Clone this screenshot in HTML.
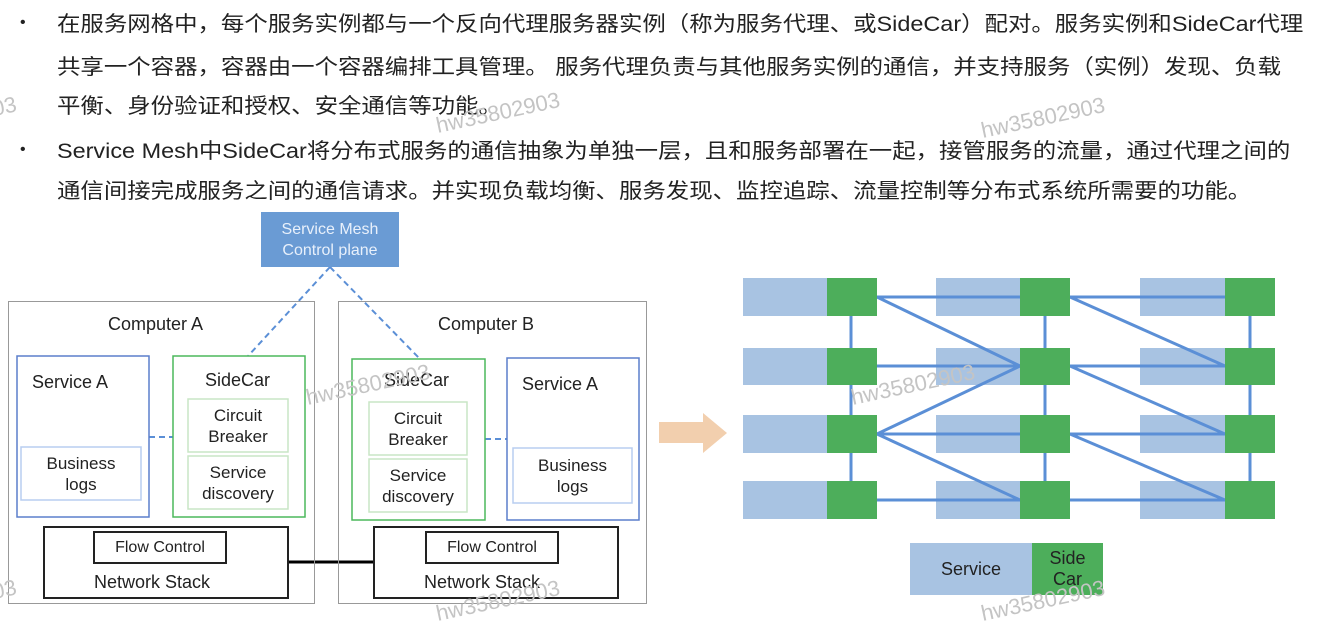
<!DOCTYPE html>
<html><head><meta charset="utf-8"><style>
body{margin:0;width:1328px;height:614px;background:#fff;position:relative;overflow:hidden;font-family:"Liberation Sans","Noto Sans CJK SC",sans-serif;}
.l{position:absolute;left:57px;font-size:21px;color:#222;white-space:nowrap;line-height:24px;transform:scaleX(1.115);transform-origin:0 0;}
.b{position:absolute;left:20px;font-size:16px;color:#222;}
.bx{position:absolute;box-sizing:border-box;display:flex;align-items:center;justify-content:center;text-align:center;font-size:17px;color:#222;line-height:21px;}
.t{position:absolute;font-size:18px;color:#222;white-space:nowrap;}
.wm{position:absolute;color:#c4c4c4;font-size:22px;transform:rotate(-12deg);white-space:nowrap;}
</style></head><body>
<div class="b" style="top:14px">•</div>
<div class="l" style="top:13px">在服务网格中，每个服务实例都与一个反向代理服务器实例（称为服务代理、或SideCar）配对。服务实例和SideCar代理</div>
<div class="l" style="top:56px">共享一个容器，容器由一个容器编排工具管理。 服务代理负责与其他服务实例的通信，并支持服务（实例）发现、负载</div>
<div class="l" style="top:95px">平衡、身份验证和授权、安全通信等功能。</div>
<div class="b" style="top:141px">•</div>
<div class="l" style="top:140px">Service Mesh中SideCar将分布式服务的通信抽象为单独一层，且和服务部署在一起，接管服务的流量，通过代理之间的</div>
<div class="l" style="top:180px">通信间接完成服务之间的通信请求。并实现负载均衡、服务发现、监控追踪、流量控制等分布式系统所需要的功能。</div>

<svg style="position:absolute;left:0;top:0" width="1328" height="614">
<g stroke="#5b8fd6" stroke-width="2" stroke-dasharray="6,4" fill="none">
<line x1="330" y1="267" x2="248" y2="356"/><line x1="330" y1="267" x2="420" y2="359"/>
<line x1="149" y1="437" x2="173" y2="437"/><line x1="485" y1="439" x2="507" y2="439"/>
</g>
<line x1="288" y1="562" x2="374" y2="562" stroke="#000" stroke-width="3"/>
<rect x="8.5" y="301.5" width="306" height="302" fill="none" stroke="#999"/>
<rect x="338.5" y="301.5" width="308" height="302" fill="none" stroke="#999"/>
<rect x="17" y="356" width="132" height="161" fill="none" stroke="#5b7fcc" stroke-width="1.5"/>
<rect x="21" y="447" width="120" height="53" fill="none" stroke="#b8cdf0" stroke-width="1.5"/>
<rect x="173" y="356" width="132" height="161" fill="none" stroke="#4cb85c" stroke-width="1.5"/>
<rect x="188" y="399" width="100" height="53" fill="none" stroke="#c9e6c5" stroke-width="1.5"/>
<rect x="188" y="456" width="100" height="53" fill="none" stroke="#c9e6c5" stroke-width="1.5"/>
<rect x="352" y="359" width="133" height="161" fill="none" stroke="#4cb85c" stroke-width="1.5"/>
<rect x="369" y="402" width="98" height="53" fill="none" stroke="#c9e6c5" stroke-width="1.5"/>
<rect x="369" y="459" width="98" height="53" fill="none" stroke="#c9e6c5" stroke-width="1.5"/>
<rect x="507" y="358" width="132" height="162" fill="none" stroke="#5b7fcc" stroke-width="1.5"/>
<rect x="513" y="448" width="119" height="55" fill="none" stroke="#b8cdf0" stroke-width="1.5"/>
<rect x="44" y="527" width="244" height="71" fill="none" stroke="#222" stroke-width="2"/>
<rect x="94" y="532" width="132" height="31" fill="none" stroke="#222" stroke-width="2"/>
<rect x="374" y="527" width="244" height="71" fill="none" stroke="#222" stroke-width="2"/>
<rect x="426" y="532" width="132" height="31" fill="none" stroke="#222" stroke-width="2"/>
<rect x="261" y="212" width="138" height="55" fill="#6a9bd4"/>

<polygon points="659,422 703,422 703,413 727,433 703,453 703,443 659,443" fill="#f2cfae"/>
<g fill="#a8c3e2">
<rect x="743" y="278" width="84" height="38"/><rect x="743" y="348" width="84" height="37"/><rect x="743" y="415" width="84" height="38"/><rect x="743" y="481" width="84" height="38"/>
<rect x="936" y="278" width="84" height="38"/><rect x="936" y="348" width="84" height="37"/><rect x="936" y="415" width="84" height="38"/><rect x="936" y="481" width="84" height="38"/>
<rect x="1140" y="278" width="85" height="38"/><rect x="1140" y="348" width="85" height="37"/><rect x="1140" y="415" width="85" height="38"/><rect x="1140" y="481" width="85" height="38"/>
<rect x="910" y="543" width="122" height="52"/>
</g>
<g stroke="#5b8fd6" stroke-width="3" fill="none">
<line x1="851" y1="297" x2="851" y2="500"/><line x1="1045" y1="297" x2="1045" y2="500"/><line x1="1250" y1="297" x2="1250" y2="500"/>
<line x1="877" y1="297" x2="1225" y2="297"/><line x1="877" y1="366" x2="1225" y2="366"/><line x1="877" y1="434" x2="1225" y2="434"/><line x1="877" y1="500" x2="1225" y2="500"/>
<line x1="877" y1="297" x2="1020" y2="366"/><line x1="877" y1="434" x2="1020" y2="366"/><line x1="877" y1="434" x2="1020" y2="500"/>
<line x1="1070" y1="297" x2="1225" y2="366"/><line x1="1070" y1="366" x2="1225" y2="434"/><line x1="1070" y1="434" x2="1225" y2="500"/>
</g>
<g fill="#4dae5b">
<rect x="827" y="278" width="50" height="38"/><rect x="827" y="348" width="50" height="37"/><rect x="827" y="415" width="50" height="38"/><rect x="827" y="481" width="50" height="38"/>
<rect x="1020" y="278" width="50" height="38"/><rect x="1020" y="348" width="50" height="37"/><rect x="1020" y="415" width="50" height="38"/><rect x="1020" y="481" width="50" height="38"/>
<rect x="1225" y="278" width="50" height="38"/><rect x="1225" y="348" width="50" height="37"/><rect x="1225" y="415" width="50" height="38"/><rect x="1225" y="481" width="50" height="38"/>
<rect x="1032" y="543" width="71" height="52"/>
</g>
</svg>

<div class="bx" style="left:261px;top:212px;width:138px;height:55px;color:#e8f0fb;font-size:16px">Service Mesh<br>Control plane</div>
<div class="t" style="left:108px;top:314px">Computer A</div>
<div class="t" style="left:438px;top:314px">Computer B</div>
<div class="t" style="left:32px;top:372px">Service A</div>
<div class="t" style="left:205px;top:370px">SideCar</div>
<div class="t" style="left:384px;top:370px">SideCar</div>
<div class="t" style="left:522px;top:374px">Service A</div>
<div class="bx" style="left:21px;top:447px;width:120px;height:53px">Business<br>logs</div>
<div class="bx" style="left:513px;top:448px;width:119px;height:55px">Business<br>logs</div>
<div class="bx" style="left:188px;top:399px;width:100px;height:53px">Circuit<br>Breaker</div>
<div class="bx" style="left:188px;top:456px;width:100px;height:53px">Service<br>discovery</div>
<div class="bx" style="left:369px;top:402px;width:98px;height:53px">Circuit<br>Breaker</div>
<div class="bx" style="left:369px;top:459px;width:98px;height:53px">Service<br>discovery</div>
<div class="bx" style="left:94px;top:532px;width:132px;height:31px;font-size:16px">Flow Control</div>
<div class="bx" style="left:426px;top:532px;width:132px;height:31px;font-size:16px">Flow Control</div>
<div class="t" style="left:94px;top:572px">Network Stack</div>
<div class="t" style="left:424px;top:572px">Network Stack</div>
<div class="bx" style="left:910px;top:543px;width:122px;height:52px;font-size:18px">Service</div>
<div class="bx" style="left:1032px;top:543px;width:71px;height:52px;font-size:18px">Side<br>Car</div>

<div class="wm" style="left:-20px;top:95px">903</div>
<div class="wm" style="left:435px;top:100px">hw35802903</div>
<div class="wm" style="left:980px;top:105px">hw35802903</div>
<div class="wm" style="left:305px;top:372px">hw35802903</div>
<div class="wm" style="left:850px;top:372px">hw35802903</div>
<div class="wm" style="left:-20px;top:578px">903</div>
<div class="wm" style="left:435px;top:588px">hw35802903</div>
<div class="wm" style="left:980px;top:588px">hw35802903</div>
</body></html>
